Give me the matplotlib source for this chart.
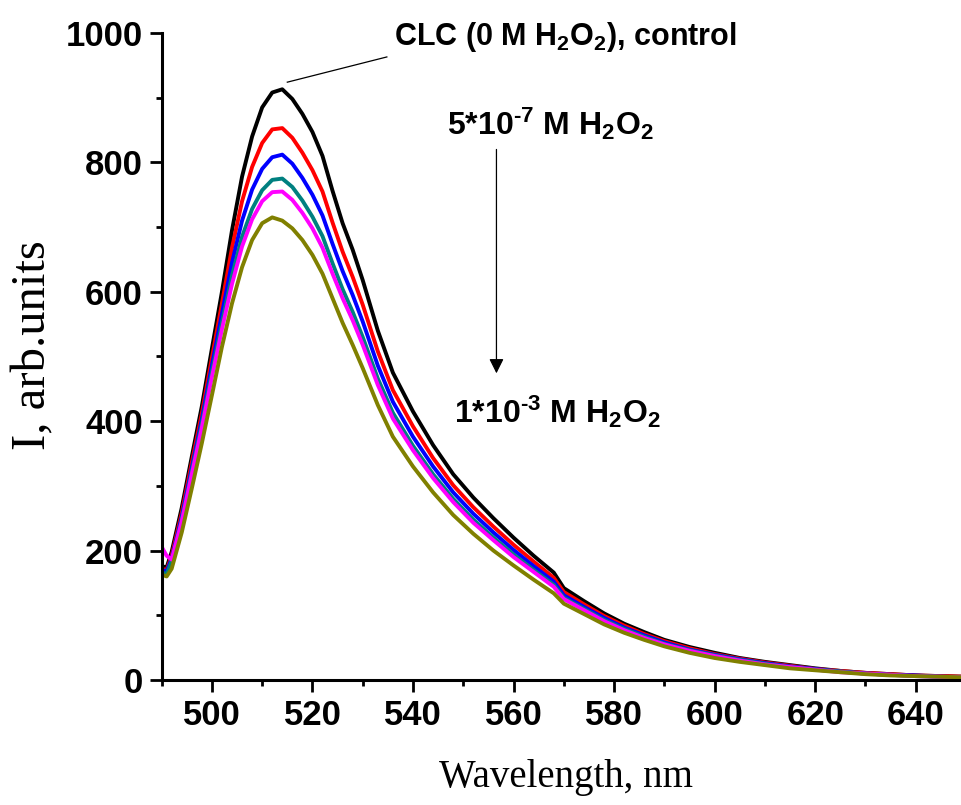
import matplotlib
matplotlib.use("Agg")
import matplotlib.pyplot as plt
from matplotlib.ticker import MultipleLocator

plt.rcParams['mathtext.fontset'] = 'custom'
plt.rcParams['mathtext.rm'] = 'Liberation Sans:bold'
plt.rcParams['mathtext.it'] = 'Liberation Sans:bold'
plt.rcParams['mathtext.bf'] = 'Liberation Sans:bold'

wavelength = [490, 491, 492, 494, 496, 498, 500, 502, 504, 506, 508, 510, 512, 514, 516,
              518, 520, 522, 524, 526, 528, 530, 533, 536, 540, 544, 548, 552, 556, 560,
              564, 568, 570, 574, 578, 582, 586, 590, 595, 600, 605, 610, 615, 620, 625,
              630, 635, 640, 645, 650]

control = [176, 174, 198, 266, 345, 423, 512, 600, 695, 778, 840, 885, 908, 913, 898,
           875, 847, 810, 756, 706, 665, 618, 540, 475, 415, 363, 318, 282, 250, 220,
           192, 166, 142, 122, 103, 87, 74, 62, 51, 42, 34, 28, 23, 18, 14,
           11, 9, 7, 6, 5]
series_red = [172, 170, 192, 258, 336, 412, 498, 582, 668, 740, 793, 830, 851, 853, 838,
              815, 788, 755, 707, 662, 623, 580, 508, 448, 392, 343, 301, 267, 237, 209,
              183, 158, 136, 117, 99, 84, 71, 60, 49, 40, 33, 27, 22, 17, 14,
              11, 9, 7, 6, 5]
series_blue = [170, 168, 188, 252, 328, 403, 486, 566, 645, 710, 758, 790, 808, 812, 798,
               776, 750, 718, 674, 632, 595, 554, 486, 430, 376, 330, 290, 257, 228, 201,
               176, 152, 131, 113, 96, 81, 69, 58, 47, 39, 32, 26, 21, 17, 13,
               10, 8, 7, 5, 4]
series_teal = [166, 164, 184, 247, 322, 396, 476, 552, 625, 685, 728, 757, 773, 775, 762,
               741, 716, 686, 644, 604, 569, 530, 466, 413, 362, 318, 280, 248, 220, 194,
               170, 147, 127, 110, 93, 79, 67, 56, 46, 38, 31, 25, 20, 16, 13,
               10, 8, 6, 5, 4]
series_magenta = [206, 192, 186, 245, 318, 390, 468, 542, 612, 670, 712, 740, 754, 755, 742,
                  722, 698, 668, 628, 590, 556, 518, 456, 404, 355, 312, 275, 243, 216, 190,
                  167, 144, 125, 108, 91, 77, 65, 55, 45, 37, 30, 24, 20, 16, 12,
                  10, 8, 6, 5, 4]
series_olive = [163, 160, 172, 228, 296, 366, 440, 515, 582, 638, 680, 706, 715, 710, 698,
                680, 657, 628, 590, 552, 518, 482, 425, 376, 330, 290, 255, 226, 200, 177,
                155, 134, 118, 102, 86, 73, 62, 52, 42, 34, 28, 23, 18, 15, 12,
                9, 7, 6, 5, 4]

series = [control, series_red, series_blue, series_teal, series_magenta, series_olive]
colors = ['#000000', '#ff0000', '#0000ff', '#008080', '#ff00ff', '#808000']

fig = plt.figure(figsize=(9.62, 8.05), dpi=100)
ax = fig.add_axes([0.168, 0.1553, 0.832, 0.8037])

for vals, c in zip(series, colors):
    ax.plot(wavelength, vals, color=c, lw=2.8, solid_joinstyle='round')

ax.set_xlim(490, 649.2)
ax.set_ylim(0, 1000)
ax.spines['top'].set_visible(False)
ax.spines['right'].set_visible(False)
for s in ['left', 'bottom']:
    ax.spines[s].set_linewidth(2.2)

ax.xaxis.set_major_locator(MultipleLocator(20))
ax.xaxis.set_minor_locator(MultipleLocator(10))
ax.yaxis.set_major_locator(MultipleLocator(200))
ax.yaxis.set_minor_locator(MultipleLocator(100))
ax.tick_params(which='major', direction='out', length=8.5, width=2.0, pad=5)
ax.tick_params(which='minor', direction='out', length=4.5, width=2.0)
ax.set_xticks([500, 520, 540, 560, 580, 600, 620, 640])
for lab in ax.get_xticklabels() + ax.get_yticklabels():
    lab.set_fontfamily('Liberation Sans')
    lab.set_fontweight('bold')
    lab.set_fontsize(25)

# axis titles placed in figure pixels (converted to fractions)
W, H = 962, 805
fig.text(566 / W, 1 - 777 / H, 'Wavelength, nm', fontfamily='Liberation Serif',
         fontsize=28, ha='center', va='center')
fig.text(33 / W, 1 - 345 / H, 'I, arb.units', fontfamily='Liberation Serif',
         fontsize=35, ha='center', va='center', rotation=90)

txt_kw = dict(fontfamily='Liberation Sans', fontweight='bold', color='black')
ax.text(536.2, 981, 'CLC (0 M H$_2$O$_2$), control', fontsize=22, ha='left', va='baseline', **txt_kw)
ax.plot([534.8, 515.0], [963, 924], color='black', lw=0.9)
ax.text(546.8, 842, '5*10$^{\u2010 7}$ M H$_2$O$_2$', fontsize=23, ha='left', va='baseline', **txt_kw)
ax.text(548.2, 398, '1*10$^{\u2010 3}$ M H$_2$O$_2$', fontsize=23, ha='left', va='baseline', **txt_kw)
ax.annotate('', xy=(556.6, 474), xytext=(556.6, 820),
            arrowprops=dict(arrowstyle='-|>', color='black', lw=0.9,
                            mutation_scale=22, shrinkA=0, shrinkB=0))

fig.savefig('out.png', dpi=100)
